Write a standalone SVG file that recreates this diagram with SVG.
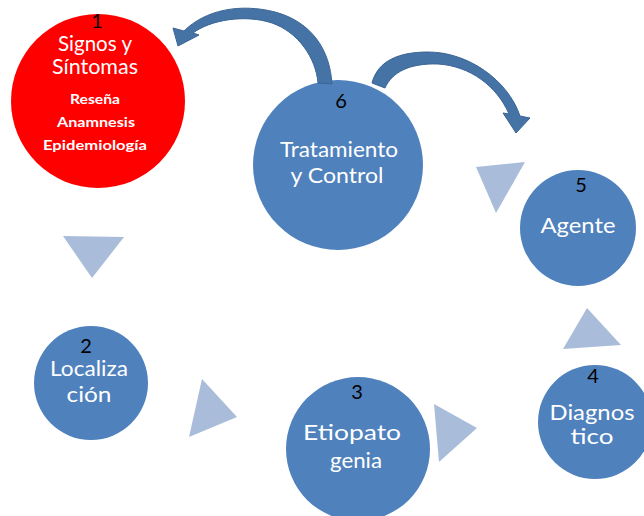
<svg xmlns="http://www.w3.org/2000/svg" width="644" height="516" viewBox="0 0 644 516">
<style>
.node{fill:#4F81BD}
.red{fill:#FF0000}
.tri{fill:#A9BDDB}
.arr{fill:#4673A6;stroke:#3B6594;stroke-width:1}
text{font-family:Lato,"Liberation Sans",sans-serif;text-anchor:middle}
.num{fill:#000;font-size:20px}
.lbl{fill:#fff;font-size:21px}
.sm{fill:#fff;font-size:14px;font-weight:bold}
</style>
<rect width="644" height="516" fill="#fff"/>
<g id="n1">
<circle class="red" cx="98" cy="101" r="87"/>
<text class="num" x="97" y="28">1</text>
<text class="lbl" x="95" y="51" font-size="18" textLength="74" lengthAdjust="spacingAndGlyphs">Signos y</text>
<text class="lbl" x="95" y="74" font-size="18" textLength="86" lengthAdjust="spacingAndGlyphs">Síntomas</text>
<text class="sm" x="95" y="104" textLength="50" lengthAdjust="spacingAndGlyphs">Reseña</text>
<text class="sm" x="96" y="127" textLength="78" lengthAdjust="spacingAndGlyphs">Anamnesis</text>
<text class="sm" x="95" y="150" textLength="104" lengthAdjust="spacingAndGlyphs">Epidemiología</text>
</g>
<g id="n2">
<circle class="node" cx="91" cy="383" r="57"/>
<text class="num" x="86" y="353">2</text>
<text class="lbl" x="89" y="376" font-size="20" textLength="78" lengthAdjust="spacingAndGlyphs">Localiza</text>
<text class="lbl" x="89" y="402" font-size="20" textLength="45" lengthAdjust="spacingAndGlyphs">ción</text>
</g>
<g id="n3">
<circle class="node" cx="358" cy="449" r="72"/>
<text class="num" x="357" y="399">3</text>
<text class="lbl" x="352" y="440" font-size="22" textLength="98" lengthAdjust="spacingAndGlyphs">Etiopato</text>
<text class="lbl" x="356" y="468" font-size="22" textLength="52" lengthAdjust="spacingAndGlyphs">genia</text>
</g>
<g id="n4">
<circle class="node" cx="595" cy="422" r="57"/>
<text class="num" x="593" y="383">4</text>
<text class="lbl" x="592" y="420" textLength="85" lengthAdjust="spacingAndGlyphs">Diagnos</text>
<text class="lbl" x="592" y="444" textLength="43" lengthAdjust="spacingAndGlyphs">tico</text>
</g>
<g id="n5">
<circle class="node" cx="578" cy="228" r="58"/>
<text class="num" x="581" y="192">5</text>
<text class="lbl" x="578" y="233" textLength="75" lengthAdjust="spacingAndGlyphs">Agente</text>
</g>
<g id="n6">
<circle class="node" cx="338" cy="165" r="85"/>
<text class="num" x="341" y="108">6</text>
<text class="lbl" x="339" y="157" textLength="118" lengthAdjust="spacingAndGlyphs">Tratamiento</text>
<text class="lbl" x="337" y="183" textLength="93" lengthAdjust="spacingAndGlyphs">y Control</text>
</g>
<g id="connectors">
<polygon class="tri" points="63,236 124,237 92,278"/>
<polygon class="tri" points="202,379 237,417 189,437"/>
<polygon class="tri" points="434,404 477,428 439,462"/>
<polygon class="tri" points="587,308 621,345 563,349"/>
<polygon class="tri" points="476,167 525,162 496,213"/>
<path class="arr" d="M332,84 C330,50 312,22 275,12 C240,3 205,10 184,31 L173,28 L178,46 L199,35 L193,33 C210,20 245,14 272,23 C298,32 316,58 318,83 Z"/>
<path class="arr" d="M372,83 C378,60 400,52 428,52 C468,52 508,80 520,116 L530,118 L516,133 L503,113 L509,114 C497,86 470,66 438,64 C410,63 392,72 385,88 Z"/>
</g>
</svg>
